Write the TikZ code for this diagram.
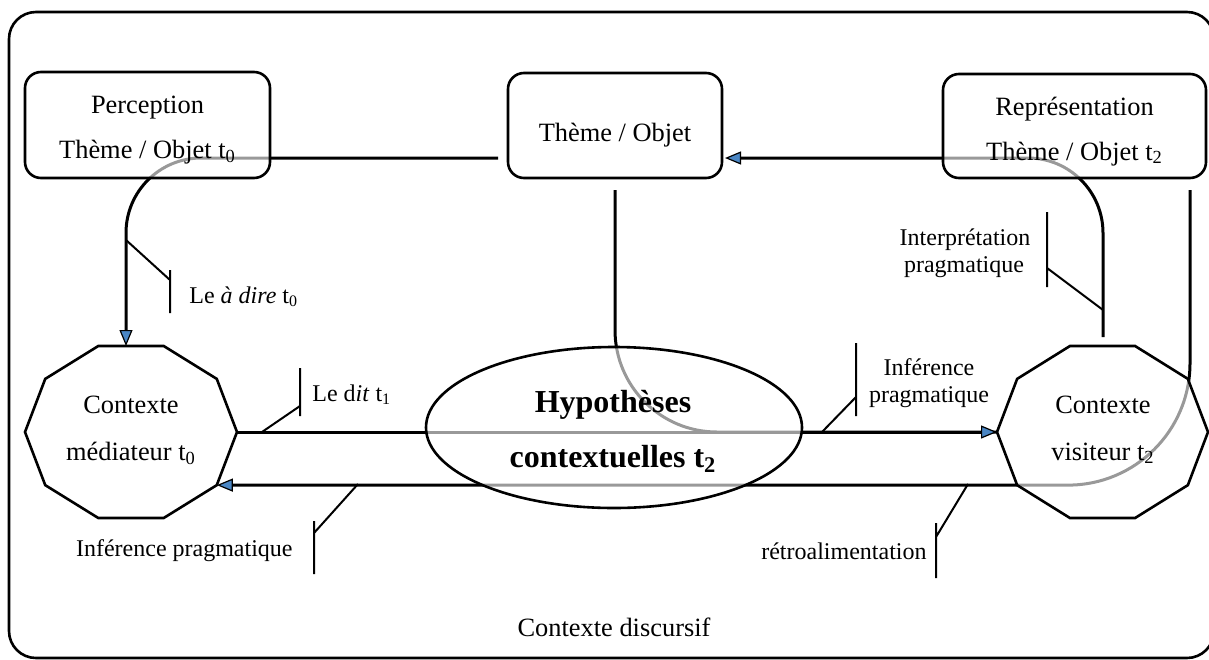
\documentclass[tikz,border=0pt]{standalone}
\usepackage{fontspec}
\setmainfont{Liberation Serif}
\usetikzlibrary{arrows.meta,shapes.geometric,calc}
\definecolor{arrowblue}{RGB}{74,134,196}
\pgfdeclarelayer{bg}
\pgfsetlayers{bg,main}
\begin{document}
\begin{tikzpicture}[x=0.5pt,y=-0.5pt,
  frame/.style={draw, line width=1.3pt, rounded corners=13.5pt},
  box/.style={draw, line width=1.3pt, rounded corners=8pt, fill=white, fill opacity=0.6, inner sep=0pt},
  ell/.style={draw, ellipse, line width=1.3pt, fill=white, fill opacity=0.6, inner sep=0pt},
  deca/.style={draw, line width=1.3pt, fill=white, fill opacity=0.6},
  conn/.style={line width=1.5pt},
  tip/.style={-{Triangle[length=8pt,width=6.5pt,fill=arrowblue,line width=0.6pt]}},
  tick/.style={line width=1pt},
  txt/.style={font=\fontsize{13.2}{16}\selectfont, inner sep=0pt, anchor=base},
  btxt/.style={font=\fontsize{16}{19}\selectfont\bfseries, inner sep=0pt, anchor=base},
  lab/.style={font=\fontsize{12}{14}\selectfont, inner sep=0pt, anchor=base},
]
\useasboundingbox (0,0) rectangle (1209,659);
\clip (0,0) rectangle (1209,659);
\path[frame] (9,12) rectangle (1214,658);

% boxes
\node[box, minimum width=122.5pt, minimum height=53pt] (P) at (147.5,125) {};
\node[box, minimum width=107pt, minimum height=52.5pt] (T) at (615,125.5) {};
\node[box, minimum width=131.5pt, minimum height=52pt] (R) at (1074.5,126) {};
\node[ell, minimum width=188pt, minimum height=80.5pt] (H) at (614,427.5) {};

% decagons
\coordinate (M) at (131,432);
\coordinate (V) at (1102.5,432);
\path[deca] plot[samples=11, domain=0:360] ({131+106*cos(\x)},{432+90.4*sin(\x)}) -- cycle;
\path[deca] plot[samples=11, domain=0:360] ({1102.5+105.5*cos(\x)},{432+90.4*sin(\x)}) -- cycle;
\coordinate (Mr) at ($(M)+(106,0)$);
\coordinate (Mlr) at ($(M)+(85.8,53.1)$);
\coordinate (Mtop) at ($(M)+(-5,-86)$);
\coordinate (Vl) at ($(V)+(-105.5,0)$);

% connector way points
\coordinate (a1) at (498,158);
\coordinate (a2) at (126,158);
\coordinate (b1) at (1103,337);
\coordinate (b2) at (1103,158);
\coordinate (b3) at (725,158);
\coordinate (c1) at (615,190);
\coordinate (c2) at (615,432);
\coordinate (d1) at (1190,190);
\coordinate (d2) at (1190,485.1);

\begin{pgfonlayer}{bg}
\draw[conn, tip, rounded corners=37.5pt] (a1) -- (a2) -- (Mtop);
\draw[conn, tip, rounded corners=37.5pt] (b1) -- (b2) -- (b3);
\draw[conn, rounded corners=51pt] (c1) -- (c2) -- (Vl);
\draw[conn, tip] (Mr) -- (Vl);
\draw[conn, tip, rounded corners=61pt] (d1) -- (d2) -- (Mlr);
\end{pgfonlayer}

% callout leaders
\draw[tick] (126,240) -- (170,280) (170,270) -- (170,313);
\draw[tick] (262,432) -- (300,406) (300,368) -- (300,416);
\draw[tick] (358,484) -- (314,533) (314,521) -- (314,574);
\draw[tick] (822,432) -- (856,397) (856,343) -- (856,416);
\draw[tick] (968,484) -- (936,537) (936,523) -- (936,578);
\draw[tick] (1103,310) -- (1047,268) (1047,212) -- (1047,287);

% texts
\node[txt] (p1) at (147.5,113) {Perception};
\node[txt] (p2) at (147.5,158) {Thème / Objet t\textsubscript{0}};
\node[txt] (t1) at (615,141) {Thème / Objet};
\node[txt] (r1) at (1074.5,115) {Représentation};
\node[txt] (r2) at (1074.5,160) {Thème / Objet t\textsubscript{2}};
\node[txt] (m1) at (131,413) {Contexte};
\node[txt] (m2) at (131,460) {médiateur t\textsubscript{0}};
\node[txt] (v1) at (1103,413) {Contexte};
\node[txt] (v2) at (1103,460) {visiteur t\textsubscript{2}};
\node[btxt] (h1) at (613,412) {Hypothèses};
\node[btxt] (h2) at (613,467) {contextuelles t\textsubscript{2}};
\node[txt] (cd) at (614,636) {Contexte discursif};

\node[lab, anchor=base west] (l1) at (189,303) {Le \textit{à dire} t\textsubscript{0}};
\node[lab, anchor=base west] (l2) at (312,401) {Le d\textit{it} t\textsubscript{1}};
\node[lab, anchor=base east] (l3) at (293,556) {Inférence pragmatique};
\node[lab] (l4a) at (929,375) {Inférence};
\node[lab] (l4b) at (929,402) {pragmatique};
\node[lab, anchor=base east] (l5) at (927,559) {rétroalimentation};
\node[lab] (l6a) at (965,245) {Interprétation};
\node[lab] (l6b) at (964,272) {pragmatique};
\end{tikzpicture}
\end{document}
